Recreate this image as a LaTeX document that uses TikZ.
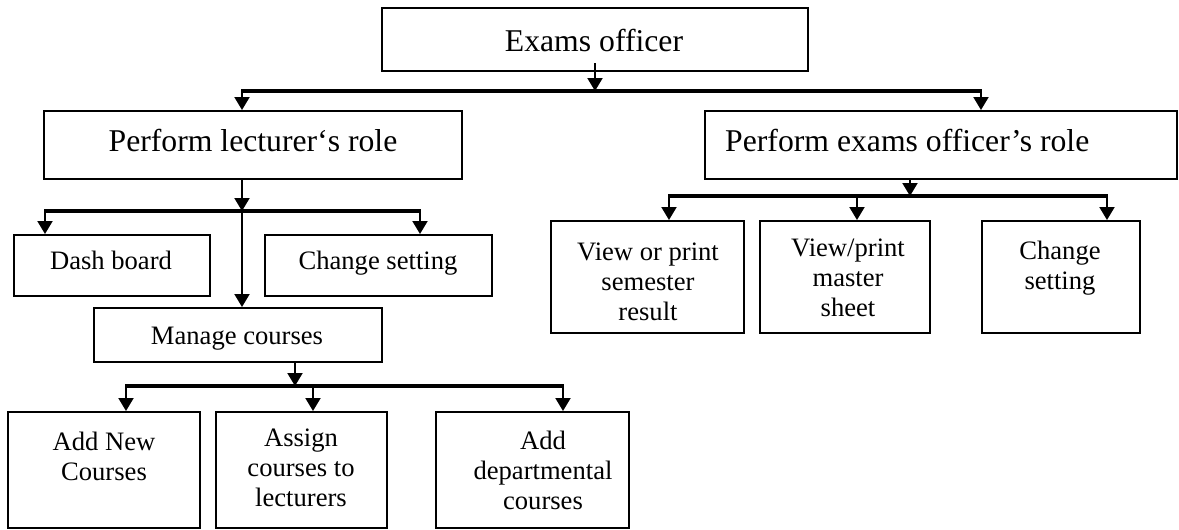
\documentclass[tikz,border=0pt]{standalone}
\usepackage{fontspec}
\setmainfont{Liberation Serif}
\usetikzlibrary{arrows.meta}
\begin{document}
\begin{tikzpicture}[x=1pt,y=-1pt,
  box/.style={draw, line width=2pt, inner sep=0pt},
  big/.style={font=\fontsize{31.7}{38}\selectfont, inner sep=0pt},
  small/.style={font=\fontsize{26.6}{30}\selectfont, inner sep=0pt, align=center},
  arr/.style={line width=2pt, -{Triangle[width=15pt,length=13pt]}},
  bus/.style={line width=3.3pt, line cap=butt}]
\useasboundingbox (0,0) rectangle (1179,530);
% boxes
\node[box, minimum width=426pt, minimum height=63pt] (ex) at (595,39.5) {};
\node[box, minimum width=418pt, minimum height=68pt] (lec) at (253,145) {};
\node[box, minimum width=472pt, minimum height=68pt] (role) at (941,145) {};
\node[box, minimum width=196pt, minimum height=61pt] (dash) at (112,265.5) {};
\node[box, minimum width=227pt, minimum height=61pt] (chg) at (378.5,265.5) {};
\node[box, minimum width=288pt, minimum height=54pt] (man) at (238,335) {};
\node[box, minimum width=192pt, minimum height=116pt] (addn) at (104,470) {};
\node[box, minimum width=171pt, minimum height=116pt] (asg) at (301.5,470) {};
\node[box, minimum width=193pt, minimum height=116pt] (dep) at (532.5,470) {};
\node[box, minimum width=193pt, minimum height=112pt] (vop) at (647.5,277) {};
\node[box, minimum width=170pt, minimum height=112pt] (vpm) at (845,277) {};
\node[box, minimum width=158pt, minimum height=112pt] (chgb) at (1061,277) {};
% texts
\node[big] (tex) at (594,40) {Exams officer};
\node[big] (tlec) at (253,140) {Perform lecturer‘s role};
\node[big, anchor=west] (trole) at (725,140) {Perform exams officer’s role};
\node[small] (tdash) at (111,260) {Dash board};
\node[small] (tchg) at (378,263) {Change setting};
\node[small] (tman) at (237,339) {Manage courses};
\node[small] (taddn) at (104,456) {Add New\\Courses};
\node[small] (tasg) at (301,468) {Assign\\courses to\\lecturers};
\node[small] (tdep) at (543,470) {Add\\departmental\\courses};
\node[small] (tvop) at (648,282) {View or print\\semester\\result};
\node[small] (tvpm) at (848,278) {View/print\\master\\sheet};
\node[small] (tchgb) at (1060,268) {Change\\setting};
% bus coordinates
\coordinate (b1l) at (242,91);
\coordinate (b1r) at (981,91);
\coordinate (b2l) at (45,211);
\coordinate (b2m) at (242,211);
\coordinate (b2r) at (420,211);
\coordinate (b3l) at (126,386);
\coordinate (b3a) at (313,386);
\coordinate (b3m) at (295,386);
\coordinate (b3r) at (563,386);
\coordinate (b4l) at (669,196);
\coordinate (b4a) at (857,196);
\coordinate (b4m) at (910,196);
\coordinate (b4r) at (1107,196);
% level 1
\draw[bus] ([xshift=-1pt]b1l) -- ([xshift=1pt]b1r);
\draw[arr] ([yshift=9pt]ex.south) -- (ex.south |- b1l);
\draw[arr] (b1l) -- (b1l |- lec.north);
\draw[arr] (b1r) -- (b1r |- role.north);
% lecturer branch
\draw[arr] (b2m |- lec.south) -- (b2m);
\draw[bus] ([xshift=-1pt]b2l) -- ([xshift=1pt]b2r);
\draw[arr] (b2l) -- (b2l |- dash.north);
\draw[arr] (b2r) -- (b2r |- chg.north);
\draw[arr] (b2m) -- (b2m |- man.north);
% manage courses branch
\draw[arr] (b3m |- man.south) -- (b3m);
\draw[bus] ([xshift=-1pt]b3l) -- ([xshift=1pt]b3r);
\draw[arr] (b3l) -- (b3l |- addn.north);
\draw[arr] (b3a) -- (b3a |- asg.north);
\draw[arr] (b3r) -- (b3r |- dep.north);
% exams officer role branch
\draw[arr] (b4m |- role.south) -- (b4m);
\draw[bus] ([xshift=-1pt]b4l) -- ([xshift=1pt]b4r);
\draw[arr] (b4l) -- (b4l |- vop.north);
\draw[arr] (b4a) -- (b4a |- vpm.north);
\draw[arr] (b4r) -- (b4r |- chgb.north);
\end{tikzpicture}
\end{document}
